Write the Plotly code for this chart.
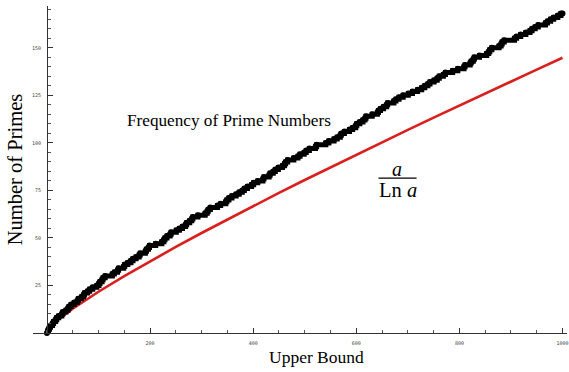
import plotly.graph_objects as go

# Primes up to 1000 (the black staircase: count of primes <= a)
primes = [2,3,5,7,11,13,17,19,23,29,31,37,41,43,47,53,59,61,67,71,73,79,83,89,97,
          101,103,107,109,113,127,131,137,139,149,151,157,163,167,173,179,181,191,193,197,199,
          211,223,227,229,233,239,241,251,257,263,269,271,277,281,283,293,
          307,311,313,317,331,337,347,349,353,359,367,373,379,383,389,397,
          401,409,419,421,431,433,439,443,449,457,461,463,467,479,487,491,499,
          503,509,521,523,541,547,557,563,569,571,577,587,593,599,
          601,607,613,617,619,631,641,643,647,653,659,661,673,677,683,691,
          701,709,719,727,733,739,743,751,757,761,769,773,787,797,
          809,811,821,823,827,829,839,853,857,859,863,877,881,883,887,
          907,911,919,929,937,941,947,953,967,971,977,983,991,997]
prime_x = [0] + primes + [1000]
prime_count = [0] + list(range(1, len(primes) + 1)) + [len(primes)]

# a / Ln a curve, values read at sample points
curve_x = [2, 5, 10, 20, 50, 100, 150, 200, 250, 300, 350, 400, 450, 500,
           550, 600, 650, 700, 750, 800, 850, 900, 950, 1000]
curve_y = [2.89, 3.11, 4.34, 6.68, 12.78, 21.71, 29.94, 37.75, 45.28, 52.60,
           59.75, 66.76, 73.66, 80.46, 87.16, 93.80, 100.36, 106.85, 113.29,
           119.68, 126.02, 132.31, 138.55, 144.76]

x_ticks = [200, 400, 600, 800, 1000]
y_ticks = [25, 50, 75, 100, 125, 150]

fig = go.Figure()
fig.add_trace(go.Scatter(x=curve_x, y=curve_y, mode="lines",
                         line=dict(color="#d8201e", width=2.6),
                         cliponaxis=False, showlegend=False, hoverinfo="skip"))
fig.add_trace(go.Scatter(x=prime_x, y=prime_count, mode="lines+markers",
                         line=dict(color="black", width=5, shape="hv"),
                         marker=dict(color="black", size=6),
                         cliponaxis=False, showlegend=False, hoverinfo="skip"))

serif = "Liberation Serif, Times New Roman, serif"

fig.add_annotation(x=353, y=112, xref="x", yref="y", text="Frequency of Prime Numbers",
                   showarrow=False, font=dict(family=serif, size=17.2, color="black"))
fig.add_annotation(x=679, y=86.5, xref="x", yref="y", text="<i>a</i>",
                   showarrow=False, font=dict(family=serif, size=20, color="black"))
fig.add_annotation(x=681, y=75, xref="x", yref="y", text="Ln <i>a</i>",
                   showarrow=False, font=dict(family=serif, size=20.5, color="black"))
fig.add_shape(type="line", xref="x", yref="y", x0=643, x1=717, y0=81.5, y1=81.5,
              line=dict(color="black", width=1.2))
# x axis title
fig.add_annotation(x=(318 - 33) / 536, y=-(357 - 333) / 327, xref="paper", yref="paper",
                   text="Upper Bound", showarrow=False, yanchor="middle",
                   font=dict(family=serif, size=17.5, color="black"))

fig.update_layout(
    width=569, height=372,
    margin=dict(l=33, r=0, t=6, b=39),
    paper_bgcolor="white", plot_bgcolor="white",
    xaxis=dict(range=[-27, 1008.7], tickvals=x_ticks, ticktext=[str(v) for v in x_ticks],
               showgrid=False, zeroline=False, showline=True, linecolor="#333", linewidth=1,
               ticks="inside", ticklen=5, tickcolor="#333",
               minor=dict(ticks="inside", dtick=50, tick0=0, ticklen=3, tickcolor="#555"),
               tickfont=dict(family="DejaVu Sans Mono", size=5, color="#444"),
               ticklabelstandoff=5, ticklabeloverflow="allow"),
    yaxis=dict(range=[0, 172], tickvals=y_ticks, ticktext=[str(v) for v in y_ticks],
               anchor="free", position=14 / 536,
               showgrid=False, zeroline=False, showline=True, linecolor="#333", linewidth=1,
               ticks="inside", ticklen=5, tickcolor="#333",
               minor=dict(ticks="inside", dtick=5, tick0=0, ticklen=3, tickcolor="#555"),
               tickfont=dict(family="DejaVu Sans Mono", size=5, color="#444"),
               ticklabelstandoff=5,
               title=dict(text="Number of Primes", font=dict(family=serif, size=20.5, color="black"),
                          standoff=2)),
)

fig.write_html("out.html")
